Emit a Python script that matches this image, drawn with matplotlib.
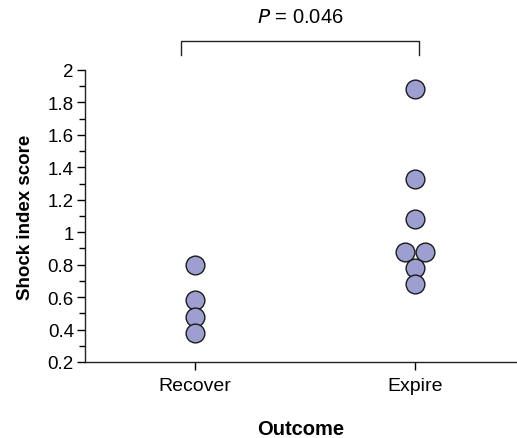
import matplotlib.pyplot as plt
from matplotlib.ticker import MultipleLocator, FuncFormatter

plt.rcParams['font.family'] = ['Liberation Sans', 'DejaVu Sans']

# data
groups = ['Recover', 'Expire']
recover = [0.80, 0.58, 0.48, 0.38]
expire = [1.88, 1.33, 1.08, 0.88, 0.88, 0.78, 0.68]
p_text = '$\\it{P}$ = 0.046'

fig = plt.figure(figsize=(5.17, 4.39), dpi=100)
ax = fig.add_axes([85 / 517, 76 / 439, 1 - 85 / 517, 292 / 439])

# spread equal values sideways, like a dot plot
dodge = 0.045
for i, vals in enumerate([recover, expire]):
    xs = []
    seen = {}
    for v in vals:
        n = vals.count(v)
        c = seen.get(v, 0)
        seen[v] = c + 1
        xs.append(i + (c - (n - 1) / 2) * 2 * dodge)
    ax.scatter(xs, vals, s=13.5 ** 2, color='#9d9fd1', edgecolor='#1a1a1a',
               linewidth=1.0, zorder=3, clip_on=False)

ax.set_xlim(-0.5, 1.464)
ax.set_ylim(0.2, 2.0)
ax.set_xticks([0, 1])
ax.set_xticklabels(groups, fontsize=14)
ax.yaxis.set_major_locator(MultipleLocator(0.2))
ax.yaxis.set_minor_locator(MultipleLocator(0.1))
ax.yaxis.set_major_formatter(FuncFormatter(lambda v, p: '%g' % round(v, 2)))
ax.tick_params(axis='y', labelsize=13.5, length=6, width=1, pad=2)
ax.tick_params(axis='y', which='minor', length=4, width=1)
ax.tick_params(axis='x', length=6, width=1, pad=5)
for s in ['top', 'right']:
    ax.spines[s].set_visible(False)
for s in ['left', 'bottom']:
    ax.spines[s].set_linewidth(1.0)
    ax.spines[s].set_color('#222222')

ax.set_ylabel('Shock index score', fontsize=13.5, fontweight='bold', labelpad=10)
ax.set_xlabel('Outcome', fontsize=14.5, fontweight='bold', labelpad=18)

# significance bracket
bx0, bx1 = -0.064, 1.018
ax.plot([bx0, bx0, bx1, bx1], [2.09, 2.18, 2.18, 2.09], color='#222222',
        linewidth=1.0, clip_on=False)
ax.text(0.477, 2.33, p_text, ha='center', va='center', fontsize=14.5)

fig.savefig('out.png', dpi=100)
